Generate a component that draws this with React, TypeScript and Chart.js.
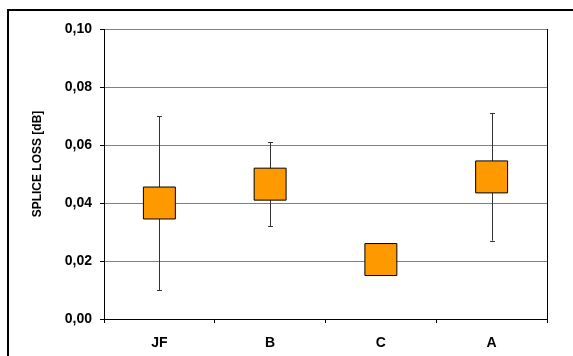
import React, { useEffect, useRef } from "react";
import { Chart, registerables } from "chart.js";

Chart.register(...registerables);

const categories = ["JF", "B", "C", "A"];
const meanLoss = [0.04, 0.0465, 0.0205, 0.049];
const errLow = [0.01, 0.032, null, 0.027];
const errHigh = [0.07, 0.061, null, 0.071];
const yTicks = [0, 0.02, 0.04, 0.06, 0.08, 0.1];

const FONT = "'Liberation Sans', Arial, sans-serif";

const framePlugin = {
  id: "frame",
  beforeDatasetsDraw(chart: any) {
    const { ctx, scales } = chart;
    const x = scales.x;
    const y = scales.y;
    ctx.save();
    ctx.strokeStyle = "#333";
    ctx.lineWidth = 1;
    for (let i = 0; i < categories.length; i++) {
      const lo = errLow[i];
      const hi = errHigh[i];
      if (lo == null || hi == null) continue;
      const px = Math.round(x.getPixelForValue(i)) + 0.5;
      const pLo = y.getPixelForValue(lo);
      const pHi = y.getPixelForValue(hi);
      ctx.beginPath();
      ctx.moveTo(px, pLo);
      ctx.lineTo(px, pHi);
      ctx.moveTo(px - 2.5, Math.round(pLo) + 0.5);
      ctx.lineTo(px + 2.5, Math.round(pLo) + 0.5);
      ctx.moveTo(px - 2.5, Math.round(pHi) + 0.5);
      ctx.lineTo(px + 2.5, Math.round(pHi) + 0.5);
      ctx.stroke();
    }
    ctx.restore();
  },
  afterDraw(chart: any) {
    const { ctx, chartArea } = chart;
    ctx.save();
    ctx.strokeStyle = "#000";
    ctx.lineWidth = 1;
    ctx.beginPath();
    ctx.moveTo(Math.round(chartArea.right) + 0.5, chartArea.top);
    ctx.lineTo(Math.round(chartArea.right) + 0.5, chartArea.bottom + 4);
    ctx.stroke();
    ctx.lineWidth = 2;
    ctx.beginPath();
    ctx.moveTo(8, 356);
    ctx.lineTo(8, 10);
    ctx.lineTo(573, 10);
    ctx.stroke();
    ctx.translate(38, 164);
    ctx.rotate(-Math.PI / 2);
    ctx.fillStyle = "#000";
    ctx.font = `bold 12px ${FONT}`;
    ctx.textAlign = "center";
    ctx.textBaseline = "middle";
    ctx.fillText("SPLICE LOSS [dB]", 0, 0);
    ctx.restore();
  },
};

export default function App() {
  const ref = useRef<HTMLCanvasElement>(null);
  useEffect(() => {
    document.body.style.margin = "0";
    const chart = new Chart(ref.current as HTMLCanvasElement, {
      type: "line",
      data: {
        labels: categories,
        datasets: [
          {
            data: meanLoss,
            showLine: false,
            pointStyle: "rect",
            pointRadius: 22.6,
            pointHoverRadius: 22.6,
            pointBackgroundColor: "#FF9900",
            pointBorderColor: "#000",
            pointBorderWidth: 1,
          },
        ],
      },
      options: {
        animation: false,
        responsive: false,
        events: [],
        layout: { padding: { left: 0, top: 29, right: 26, bottom: 0 } },
        plugins: { legend: { display: false }, tooltip: { enabled: false } },
        scales: {
          x: {
            type: "category",
            offset: true,
            grid: { offset: true, drawOnChartArea: false, tickLength: 4, tickColor: "#000" },
            border: { color: "#000", width: 1 },
            ticks: { color: "#000", font: { family: FONT, size: 14, weight: "bold" }, padding: 12 },
            afterFit: (s: any) => {
              s.height = 37;
            },
          },
          y: {
            min: 0,
            max: 0.1,
            afterBuildTicks: (s: any) => {
              s.ticks = yTicks.map((v) => ({ value: v }));
            },
            ticks: {
              color: "#000",
              font: { family: FONT, size: 14, weight: "bold" },
              padding: 8,
              callback: (v: any) => Number(v).toFixed(2).replace(".", ","),
            },
            grid: {
              color: (c: any) => (c.tick && c.tick.value === 0 ? "#000" : "#808080"),
              tickColor: "#000",
              tickLength: 4,
            },
            border: { color: "#000", width: 1 },
            afterFit: (s: any) => {
              s.width = 104;
            },
          },
        },
      },
      plugins: [framePlugin],
    });
    return () => chart.destroy();
  }, []);
  return (
    <div style={{ position: "absolute", left: 0, top: 0, width: 573, height: 356 }}>
      <canvas ref={ref} width={573} height={356} style={{ width: 573, height: 356, display: "block" }} />
    </div>
  );
}
